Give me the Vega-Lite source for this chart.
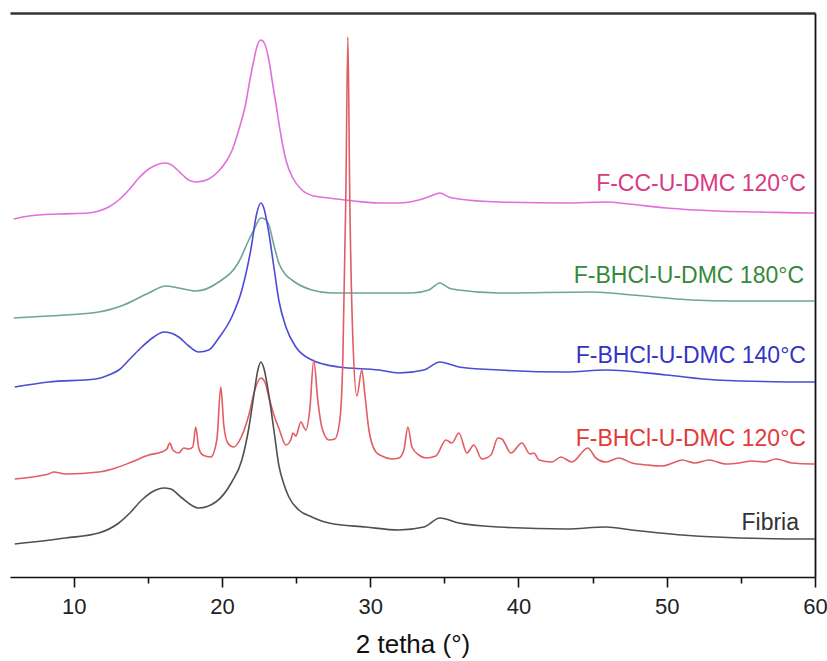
{
  "$schema": "https://vega.github.io/schema/vega-lite/v6.json",
  "autosize": "none",
  "width": 805,
  "height": 564,
  "padding": {"left": 10, "top": 13, "right": 12, "bottom": 84},
  "background": "white",
  "config": {"view": {"stroke": null}, "font": "Liberation Sans"},
  "datasets": {
    "curves": [
      {"s":"F-CC-U-DMC 120°C","t":5.95,"i":358},{"s":"F-CC-U-DMC 120°C","t":6.96,"i":361},{"s":"F-CC-U-DMC 120°C","t":8.99,"i":363},{"s":"F-CC-U-DMC 120°C","t":11.01,"i":364},{"s":"F-CC-U-DMC 120°C","t":11.69,"i":366},{"s":"F-CC-U-DMC 120°C","t":12.36,"i":370},{"s":"F-CC-U-DMC 120°C","t":13.04,"i":377},{"s":"F-CC-U-DMC 120°C","t":13.71,"i":387},{"s":"F-CC-U-DMC 120°C","t":14.39,"i":399},{"s":"F-CC-U-DMC 120°C","t":15.06,"i":408},{"s":"F-CC-U-DMC 120°C","t":15.74,"i":413},{"s":"F-CC-U-DMC 120°C","t":16.21,"i":414},{"s":"F-CC-U-DMC 120°C","t":16.6,"i":412},{"s":"F-CC-U-DMC 120°C","t":17.0,"i":407},{"s":"F-CC-U-DMC 120°C","t":17.42,"i":401},{"s":"F-CC-U-DMC 120°C","t":17.9,"i":396},{"s":"F-CC-U-DMC 120°C","t":18.30,"i":395},{"s":"F-CC-U-DMC 120°C","t":19.11,"i":398},{"s":"F-CC-U-DMC 120°C","t":19.78,"i":406},{"s":"F-CC-U-DMC 120°C","t":20.3,"i":416},{"s":"F-CC-U-DMC 120°C","t":20.66,"i":426},{"s":"F-CC-U-DMC 120°C","t":21.13,"i":447},{"s":"F-CC-U-DMC 120°C","t":21.61,"i":474},{"s":"F-CC-U-DMC 120°C","t":21.88,"i":497},{"s":"F-CC-U-DMC 120°C","t":22.15,"i":517},{"s":"F-CC-U-DMC 120°C","t":22.35,"i":530},{"s":"F-CC-U-DMC 120°C","t":22.62,"i":537},{"s":"F-CC-U-DMC 120°C","t":22.89,"i":533},{"s":"F-CC-U-DMC 120°C","t":23.16,"i":517},{"s":"F-CC-U-DMC 120°C","t":23.43,"i":492},{"s":"F-CC-U-DMC 120°C","t":23.63,"i":474},{"s":"F-CC-U-DMC 120°C","t":23.97,"i":442},{"s":"F-CC-U-DMC 120°C","t":24.31,"i":417},{"s":"F-CC-U-DMC 120°C","t":24.78,"i":399},{"s":"F-CC-U-DMC 120°C","t":25.39,"i":387},{"s":"F-CC-U-DMC 120°C","t":26.19,"i":381},{"s":"F-CC-U-DMC 120°C","t":27.21,"i":379},{"s":"F-CC-U-DMC 120°C","t":28.89,"i":376},{"s":"F-CC-U-DMC 120°C","t":30.58,"i":374},{"s":"F-CC-U-DMC 120°C","t":31.93,"i":374},{"s":"F-CC-U-DMC 120°C","t":33.28,"i":377},{"s":"F-CC-U-DMC 120°C","t":34.09,"i":381},{"s":"F-CC-U-DMC 120°C","t":34.70,"i":384},{"s":"F-CC-U-DMC 120°C","t":35.30,"i":380},{"s":"F-CC-U-DMC 120°C","t":35.98,"i":378},{"s":"F-CC-U-DMC 120°C","t":38.68,"i":375},{"s":"F-CC-U-DMC 120°C","t":43.20,"i":374},{"s":"F-CC-U-DMC 120°C","t":45.90,"i":375},{"s":"F-CC-U-DMC 120°C","t":47.45,"i":373},{"s":"F-CC-U-DMC 120°C","t":49.95,"i":369},{"s":"F-CC-U-DMC 120°C","t":53.32,"i":366},{"s":"F-CC-U-DMC 120°C","t":56.22,"i":365},{"s":"F-CC-U-DMC 120°C","t":59.80,"i":364},{"s":"F-CC-U-DMC 120°C","t":60,"i":364},

      {"s":"F-BHCl-U-DMC 180°C","t":5.95,"i":259},{"s":"F-BHCl-U-DMC 180°C","t":8.31,"i":261},{"s":"F-BHCl-U-DMC 180°C","t":11.69,"i":265},{"s":"F-BHCl-U-DMC 180°C","t":13.37,"i":272},{"s":"F-BHCl-U-DMC 180°C","t":15.06,"i":284},{"s":"F-BHCl-U-DMC 180°C","t":16.21,"i":291},{"s":"F-BHCl-U-DMC 180°C","t":17.08,"i":289},{"s":"F-BHCl-U-DMC 180°C","t":18.23,"i":286},{"s":"F-BHCl-U-DMC 180°C","t":19.78,"i":295},{"s":"F-BHCl-U-DMC 180°C","t":21.13,"i":315},{"s":"F-BHCl-U-DMC 180°C","t":21.81,"i":337},{"s":"F-BHCl-U-DMC 180°C","t":22.15,"i":347},{"s":"F-BHCl-U-DMC 180°C","t":22.62,"i":359},{"s":"F-BHCl-U-DMC 180°C","t":22.89,"i":358},{"s":"F-BHCl-U-DMC 180°C","t":23.16,"i":352},{"s":"F-BHCl-U-DMC 180°C","t":23.50,"i":332},{"s":"F-BHCl-U-DMC 180°C","t":23.83,"i":314},{"s":"F-BHCl-U-DMC 180°C","t":24.31,"i":302},{"s":"F-BHCl-U-DMC 180°C","t":24.71,"i":297},{"s":"F-BHCl-U-DMC 180°C","t":26.06,"i":287},{"s":"F-BHCl-U-DMC 180°C","t":27.41,"i":284},{"s":"F-BHCl-U-DMC 180°C","t":30.58,"i":284},{"s":"F-BHCl-U-DMC 180°C","t":32.81,"i":284},{"s":"F-BHCl-U-DMC 180°C","t":33.95,"i":287},{"s":"F-BHCl-U-DMC 180°C","t":34.70,"i":294},{"s":"F-BHCl-U-DMC 180°C","t":35.30,"i":289},{"s":"F-BHCl-U-DMC 180°C","t":35.98,"i":287},{"s":"F-BHCl-U-DMC 180°C","t":38.68,"i":284},{"s":"F-BHCl-U-DMC 180°C","t":44.95,"i":285},{"s":"F-BHCl-U-DMC 180°C","t":47.65,"i":282},{"s":"F-BHCl-U-DMC 180°C","t":51.70,"i":277},{"s":"F-BHCl-U-DMC 180°C","t":54.40,"i":276},{"s":"F-BHCl-U-DMC 180°C","t":59.80,"i":276},{"s":"F-BHCl-U-DMC 180°C","t":60,"i":276},

      {"s":"F-BHCl-U-DMC 140°C","t":6.02,"i":190},{"s":"F-BHCl-U-DMC 140°C","t":8.31,"i":195},{"s":"F-BHCl-U-DMC 140°C","t":11.48,"i":198},{"s":"F-BHCl-U-DMC 140°C","t":12.36,"i":202},{"s":"F-BHCl-U-DMC 140°C","t":13.04,"i":207},{"s":"F-BHCl-U-DMC 140°C","t":13.85,"i":219},{"s":"F-BHCl-U-DMC 140°C","t":14.59,"i":230},{"s":"F-BHCl-U-DMC 140°C","t":15.40,"i":240},{"s":"F-BHCl-U-DMC 140°C","t":16.07,"i":245},{"s":"F-BHCl-U-DMC 140°C","t":16.55,"i":244},{"s":"F-BHCl-U-DMC 140°C","t":17.08,"i":240},{"s":"F-BHCl-U-DMC 140°C","t":17.76,"i":231},{"s":"F-BHCl-U-DMC 140°C","t":18.43,"i":225},{"s":"F-BHCl-U-DMC 140°C","t":19.11,"i":227},{"s":"F-BHCl-U-DMC 140°C","t":19.78,"i":239},{"s":"F-BHCl-U-DMC 140°C","t":20.66,"i":260},{"s":"F-BHCl-U-DMC 140°C","t":21.34,"i":287},{"s":"F-BHCl-U-DMC 140°C","t":21.94,"i":327},{"s":"F-BHCl-U-DMC 140°C","t":22.35,"i":364},{"s":"F-BHCl-U-DMC 140°C","t":22.62,"i":374},{"s":"F-BHCl-U-DMC 140°C","t":22.82,"i":369},{"s":"F-BHCl-U-DMC 140°C","t":23.16,"i":344},{"s":"F-BHCl-U-DMC 140°C","t":23.50,"i":310},{"s":"F-BHCl-U-DMC 140°C","t":23.83,"i":277},{"s":"F-BHCl-U-DMC 140°C","t":24.31,"i":250},{"s":"F-BHCl-U-DMC 140°C","t":24.98,"i":230},{"s":"F-BHCl-U-DMC 140°C","t":26.06,"i":217},{"s":"F-BHCl-U-DMC 140°C","t":27.88,"i":210},{"s":"F-BHCl-U-DMC 140°C","t":30.58,"i":207},{"s":"F-BHCl-U-DMC 140°C","t":31.93,"i":204},{"s":"F-BHCl-U-DMC 140°C","t":33.62,"i":207},{"s":"F-BHCl-U-DMC 140°C","t":34.70,"i":215},{"s":"F-BHCl-U-DMC 140°C","t":35.98,"i":210},{"s":"F-BHCl-U-DMC 140°C","t":38.68,"i":207},{"s":"F-BHCl-U-DMC 140°C","t":43.20,"i":205},{"s":"F-BHCl-U-DMC 140°C","t":45.90,"i":207},{"s":"F-BHCl-U-DMC 140°C","t":49.95,"i":202},{"s":"F-BHCl-U-DMC 140°C","t":53.32,"i":197},{"s":"F-BHCl-U-DMC 140°C","t":59.80,"i":195},{"s":"F-BHCl-U-DMC 140°C","t":60,"i":195},

      {"s":"F-BHCl-U-DMC 120°C","t":6.02,"i":98},{"s":"F-BHCl-U-DMC 120°C","t":7.64,"i":101},{"s":"F-BHCl-U-DMC 120°C","t":8.31,"i":103},{"s":"F-BHCl-U-DMC 120°C","t":8.65,"i":105},{"s":"F-BHCl-U-DMC 120°C","t":9.46,"i":103},{"s":"F-BHCl-U-DMC 120°C","t":11.69,"i":105},{"s":"F-BHCl-U-DMC 120°C","t":12.83,"i":109},{"s":"F-BHCl-U-DMC 120°C","t":13.91,"i":115},{"s":"F-BHCl-U-DMC 120°C","t":15.06,"i":122},{"s":"F-BHCl-U-DMC 120°C","t":15.94,"i":125},{"s":"F-BHCl-U-DMC 120°C","t":16.28,"i":128},{"s":"F-BHCl-U-DMC 120°C","t":16.48,"i":134},{"s":"F-BHCl-U-DMC 120°C","t":16.68,"i":127},{"s":"F-BHCl-U-DMC 120°C","t":17.08,"i":124},{"s":"F-BHCl-U-DMC 120°C","t":17.42,"i":129},{"s":"F-BHCl-U-DMC 120°C","t":17.76,"i":128},{"s":"F-BHCl-U-DMC 120°C","t":18.03,"i":130},{"s":"F-BHCl-U-DMC 120°C","t":18.23,"i":150},{"s":"F-BHCl-U-DMC 120°C","t":18.43,"i":129},{"s":"F-BHCl-U-DMC 120°C","t":18.70,"i":122},{"s":"F-BHCl-U-DMC 120°C","t":19.24,"i":120},{"s":"F-BHCl-U-DMC 120°C","t":19.65,"i":137},{"s":"F-BHCl-U-DMC 120°C","t":19.92,"i":190},{"s":"F-BHCl-U-DMC 120°C","t":20.12,"i":152},{"s":"F-BHCl-U-DMC 120°C","t":20.39,"i":134},{"s":"F-BHCl-U-DMC 120°C","t":20.80,"i":130},{"s":"F-BHCl-U-DMC 120°C","t":21.27,"i":139},{"s":"F-BHCl-U-DMC 120°C","t":21.81,"i":162},{"s":"F-BHCl-U-DMC 120°C","t":22.21,"i":187},{"s":"F-BHCl-U-DMC 120°C","t":22.62,"i":199},{"s":"F-BHCl-U-DMC 120°C","t":22.89,"i":195},{"s":"F-BHCl-U-DMC 120°C","t":23.16,"i":180},{"s":"F-BHCl-U-DMC 120°C","t":23.50,"i":162},{"s":"F-BHCl-U-DMC 120°C","t":23.83,"i":149},{"s":"F-BHCl-U-DMC 120°C","t":24.31,"i":132},{"s":"F-BHCl-U-DMC 120°C","t":24.64,"i":137},{"s":"F-BHCl-U-DMC 120°C","t":24.78,"i":144},{"s":"F-BHCl-U-DMC 120°C","t":24.98,"i":141},{"s":"F-BHCl-U-DMC 120°C","t":25.32,"i":155},{"s":"F-BHCl-U-DMC 120°C","t":25.65,"i":147},{"s":"F-BHCl-U-DMC 120°C","t":25.92,"i":167},{"s":"F-BHCl-U-DMC 120°C","t":26.19,"i":217},{"s":"F-BHCl-U-DMC 120°C","t":26.46,"i":177},{"s":"F-BHCl-U-DMC 120°C","t":26.73,"i":150},{"s":"F-BHCl-U-DMC 120°C","t":27.21,"i":137},{"s":"F-BHCl-U-DMC 120°C","t":27.61,"i":138},{"s":"F-BHCl-U-DMC 120°C","t":27.95,"i":157},{"s":"F-BHCl-U-DMC 120°C","t":28.15,"i":217},{"s":"F-BHCl-U-DMC 120°C","t":28.35,"i":377},{"s":"F-BHCl-U-DMC 120°C","t":28.49,"i":540},{"s":"F-BHCl-U-DMC 120°C","t":28.62,"i":377},{"s":"F-BHCl-U-DMC 120°C","t":28.83,"i":237},{"s":"F-BHCl-U-DMC 120°C","t":29.10,"i":181},{"s":"F-BHCl-U-DMC 120°C","t":29.43,"i":207},{"s":"F-BHCl-U-DMC 120°C","t":29.64,"i":182},{"s":"F-BHCl-U-DMC 120°C","t":29.91,"i":147},{"s":"F-BHCl-U-DMC 120°C","t":30.38,"i":125},{"s":"F-BHCl-U-DMC 120°C","t":30.78,"i":121},{"s":"F-BHCl-U-DMC 120°C","t":31.46,"i":118},{"s":"F-BHCl-U-DMC 120°C","t":31.93,"i":119},{"s":"F-BHCl-U-DMC 120°C","t":32.27,"i":127},{"s":"F-BHCl-U-DMC 120°C","t":32.54,"i":150},{"s":"F-BHCl-U-DMC 120°C","t":32.81,"i":130},{"s":"F-BHCl-U-DMC 120°C","t":33.28,"i":122},{"s":"F-BHCl-U-DMC 120°C","t":33.75,"i":119},{"s":"F-BHCl-U-DMC 120°C","t":34.43,"i":121},{"s":"F-BHCl-U-DMC 120°C","t":35.10,"i":137},{"s":"F-BHCl-U-DMC 120°C","t":35.51,"i":134},{"s":"F-BHCl-U-DMC 120°C","t":35.98,"i":144},{"s":"F-BHCl-U-DMC 120°C","t":36.52,"i":124},{"s":"F-BHCl-U-DMC 120°C","t":36.99,"i":132},{"s":"F-BHCl-U-DMC 120°C","t":37.53,"i":118},{"s":"F-BHCl-U-DMC 120°C","t":38.14,"i":122},{"s":"F-BHCl-U-DMC 120°C","t":38.61,"i":139},{"s":"F-BHCl-U-DMC 120°C","t":38.88,"i":138},{"s":"F-BHCl-U-DMC 120°C","t":39.49,"i":124},{"s":"F-BHCl-U-DMC 120°C","t":40.23,"i":134},{"s":"F-BHCl-U-DMC 120°C","t":40.77,"i":123},{"s":"F-BHCl-U-DMC 120°C","t":41.04,"i":124},{"s":"F-BHCl-U-DMC 120°C","t":41.38,"i":117},{"s":"F-BHCl-U-DMC 120°C","t":42.25,"i":115},{"s":"F-BHCl-U-DMC 120°C","t":42.86,"i":120},{"s":"F-BHCl-U-DMC 120°C","t":43.60,"i":115},{"s":"F-BHCl-U-DMC 120°C","t":44.68,"i":129},{"s":"F-BHCl-U-DMC 120°C","t":45.22,"i":119},{"s":"F-BHCl-U-DMC 120°C","t":45.90,"i":115},{"s":"F-BHCl-U-DMC 120°C","t":46.77,"i":119},{"s":"F-BHCl-U-DMC 120°C","t":47.65,"i":114},{"s":"F-BHCl-U-DMC 120°C","t":48.7,"i":112},{"s":"F-BHCl-U-DMC 120°C","t":49.68,"i":111},{"s":"F-BHCl-U-DMC 120°C","t":50.4,"i":114},{"s":"F-BHCl-U-DMC 120°C","t":51.03,"i":117},{"s":"F-BHCl-U-DMC 120°C","t":51.9,"i":114},{"s":"F-BHCl-U-DMC 120°C","t":52.85,"i":117},{"s":"F-BHCl-U-DMC 120°C","t":53.99,"i":113},{"s":"F-BHCl-U-DMC 120°C","t":54.9,"i":114},{"s":"F-BHCl-U-DMC 120°C","t":55.75,"i":116},{"s":"F-BHCl-U-DMC 120°C","t":56.6,"i":115},{"s":"F-BHCl-U-DMC 120°C","t":57.37,"i":118},{"s":"F-BHCl-U-DMC 120°C","t":58.45,"i":114},{"s":"F-BHCl-U-DMC 120°C","t":59.80,"i":113},{"s":"F-BHCl-U-DMC 120°C","t":60,"i":113},

      {"s":"Fibria","t":6.02,"i":33},{"s":"Fibria","t":9.46,"i":39},{"s":"Fibria","t":11.69,"i":44},{"s":"Fibria","t":13.04,"i":54},{"s":"Fibria","t":13.85,"i":65},{"s":"Fibria","t":14.59,"i":77},{"s":"Fibria","t":15.40,"i":86},{"s":"Fibria","t":16.07,"i":89},{"s":"Fibria","t":16.55,"i":88},{"s":"Fibria","t":17.22,"i":80},{"s":"Fibria","t":18.43,"i":69},{"s":"Fibria","t":19.58,"i":75},{"s":"Fibria","t":20.66,"i":95},{"s":"Fibria","t":21.34,"i":117},{"s":"Fibria","t":21.81,"i":149},{"s":"Fibria","t":22.15,"i":182},{"s":"Fibria","t":22.42,"i":207},{"s":"Fibria","t":22.62,"i":215},{"s":"Fibria","t":22.82,"i":209},{"s":"Fibria","t":23.16,"i":182},{"s":"Fibria","t":23.50,"i":147},{"s":"Fibria","t":23.83,"i":112},{"s":"Fibria","t":24.17,"i":93},{"s":"Fibria","t":24.51,"i":80},{"s":"Fibria","t":25.18,"i":67},{"s":"Fibria","t":26.06,"i":60},{"s":"Fibria","t":27.21,"i":54},{"s":"Fibria","t":29.70,"i":50},{"s":"Fibria","t":31.93,"i":47},{"s":"Fibria","t":33.62,"i":50},{"s":"Fibria","t":34.70,"i":59},{"s":"Fibria","t":35.98,"i":54},{"s":"Fibria","t":38.68,"i":50},{"s":"Fibria","t":43.20,"i":48},{"s":"Fibria","t":45.90,"i":50},{"s":"Fibria","t":47.65,"i":47},{"s":"Fibria","t":51.03,"i":42},{"s":"Fibria","t":53.32,"i":40},{"s":"Fibria","t":59.80,"i":38},{"s":"Fibria","t":60,"i":38}
    ],
    "labels": [
      {"s":"F-CC-U-DMC 120°C","t":59.39,"i":393},
      {"s":"F-BHCl-U-DMC 180°C","t":59.26,"i":301},
      {"s":"F-BHCl-U-DMC 140°C","t":59.39,"i":221},
      {"s":"F-BHCl-U-DMC 120°C","t":59.39,"i":138},
      {"s":"Fibria","t":58.92,"i":54}
    ]
  },
  "layer": [
    {
      "data": {"name": "curves"},
      "mark": {"type": "line", "strokeWidth": 1.6, "interpolate": "monotone"},
      "encoding": {
        "x": {
          "field": "t", "type": "quantitative",
          "scale": {"domain": [5.7, 60], "nice": false, "zero": false},
          "axis": {
            "orient": "bottom",
            "title": "2 tetha (°)",
            "values": [10, 15, 20, 25, 30, 35, 40, 45, 50, 55, 60],
            "labelExpr": "datum.value % 10 === 0 ? datum.label : ''",
            "tickSize": {"condition": {"test": "datum.value % 10 === 0", "value": 10}, "value": 6},
            "tickColor": "#111", "tickWidth": 1.6,
            "domainColor": "#111", "domainWidth": 1.6,
            "grid": false,
            "labelFont": "Liberation Sans", "labelFontSize": 22, "labelColor": "#222",
            "labelPadding": 9, "labelFlush": false, "labelOverlap": false,
            "titleFont": "Liberation Sans", "titleFontSize": 26, "titleFontWeight": "normal", "titleColor": "#111",
            "titlePadding": 14
          }
        },
        "y": {
          "field": "i", "type": "quantitative",
          "scale": {"domain": [0, 564], "nice": false, "zero": false},
          "axis": {"orient": "right", "title": null, "labels": false, "ticks": false, "grid": false, "domainColor": "#111", "domainWidth": 1.8}
        },
        "color": {
          "field": "s", "type": "nominal", "legend": null,
          "scale": {
            "domain": ["F-CC-U-DMC 120°C", "F-BHCl-U-DMC 180°C", "F-BHCl-U-DMC 140°C", "F-BHCl-U-DMC 120°C", "Fibria"],
            "range": ["#e36fdc", "#6ea598", "#4b4bd6", "#e25c62", "#505050"]
          }
        },
        "order": {"field": "t", "type": "quantitative"}
      }
    },
    {
      "data": {"name": "labels"},
      "mark": {"type": "text", "align": "right", "baseline": "middle", "font": "Liberation Sans", "fontSize": 23},
      "encoding": {
        "x": {
          "field": "t", "type": "quantitative",
          "axis": {"orient": "top", "title": null, "labels": false, "ticks": false, "grid": false, "domainColor": "#333", "domainWidth": 2.5}
        },
        "y": {"field": "i", "type": "quantitative"},
        "text": {"field": "s"},
        "color": {
          "field": "s", "type": "nominal", "legend": null,
          "scale": {
            "domain": ["F-CC-U-DMC 120°C", "F-BHCl-U-DMC 180°C", "F-BHCl-U-DMC 140°C", "F-BHCl-U-DMC 120°C", "Fibria"],
            "range": ["#d93a84", "#35893a", "#3434c4", "#e23a3a", "#333333"]
          }
        }
      }
    }
  ],
  "resolve": {"scale": {"color": "independent"}, "axis": {"x": "independent"}}
}
